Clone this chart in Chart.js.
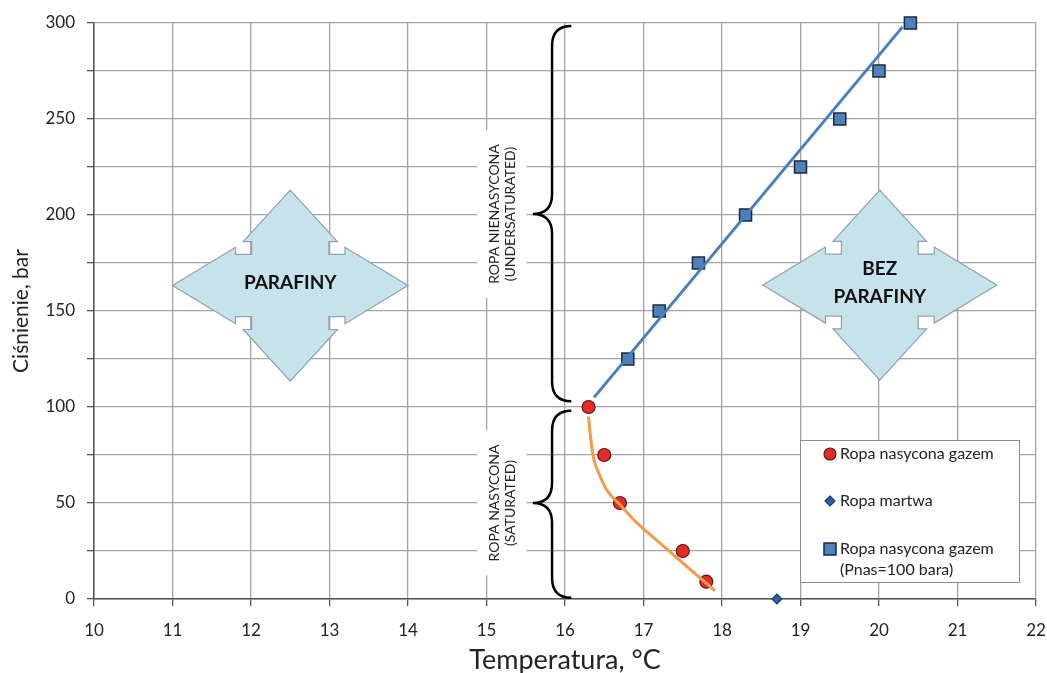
<!DOCTYPE html>
<html><head><meta charset="utf-8">
<script src="https://cdn.jsdelivr.net/npm/chart.js@4/dist/chart.umd.min.js"></script>
<style>html,body{margin:0;padding:0;background:#fff;}</style>
</head><body>
<canvas id="c" width="1047" height="673"></canvas>
<script>
// ---- data ----
const tempSaturated = [16.3, 16.5, 16.7, 17.5, 17.8];
const pressureSaturated = [100, 75, 50, 25, 9];
const tempDead = [18.7];
const pressureDead = [0];
const tempUnder = [16.8, 17.2, 17.7, 18.3, 19.0, 19.5, 20.0, 20.4];
const pressureUnder = [125, 150, 175, 200, 225, 250, 275, 300];
const trendUnderTemp = [16.37, 20.3];
const trendUnderPressure = [105, 298];
const trendSatTemp = [16.30, 16.32, 16.36, 16.43, 16.53, 16.70, 16.92, 17.21, 17.55, 17.91];
const trendSatPressure = [95, 86.4, 74.2, 65.6, 56.9, 49.1, 39.5, 29.1, 17.0, 4.3];
const yTickLabels = [0, 50, 100, 150, 200, 250, 300];
const seriesLabels = ['Ropa nasycona gazem', 'Ropa martwa', 'Ropa nasycona gazem', '(Pnas=100 bara)'];
const xTitle = 'Temperatura, °C';
const yTitle = 'Ciśnienie, bar';
const regionLabels = [['ROPA NIENASYCONA', '(UNDERSATURATED)'], ['ROPA NASYCONA', '(SATURATED)']];
const regionFrom = [103, 0.7];
const regionTo = [298.5, 98];
const regionTip = [200.5, 50];
const arrowTexts = [['PARAFINY'], ['BEZ', 'PARAFINY']];
const arrowXMin = [11.0, 18.52];
const arrowXMax = [14.0, 21.5];
const arrowYMin = [113.5, 114];
const arrowYMax = [213, 213];

const pts = (xs, ys) => xs.map((v, i) => ({x: v, y: ys[i]}));
const FONT = "Lato, 'Open Sans', sans-serif";

const styles = {
  sat: {bg: '#e52b25', border: '#5e1612', r: 6.5},
  dead: {bg: '#2e5ea8', border: '#1b3c70', r: 5},
  under: {bg: '#4f81bd', border: '#1a2a40', r: 8.5}
};

// quad arrow outline (normalised): top apex -> left apex
const Q = [[0,-1],[-0.40,-0.46],[-0.328,-0.46],[-0.328,-0.326],[-0.465,-0.326],[-0.465,-0.40],[-1,0]];
let L = Q.concat(Q.slice(0,-1).reverse().map(([a,b]) => [a,-b]));
const ARROW = L.concat(L.slice(1,-1).reverse().map(([a,b]) => [-a,b]));

const overlay = {
  id: 'overlay',
  beforeDatasetsDraw(chart) {
    const {ctx, scales: {x, y}} = chart;
    ctx.save();
    arrowTexts.forEach((txt, i) => {
      const x0 = x.getPixelForValue(arrowXMin[i]), x1 = x.getPixelForValue(arrowXMax[i]);
      const y0 = y.getPixelForValue(arrowYMax[i]), y1 = y.getPixelForValue(arrowYMin[i]);
      const cx = (x0 + x1) / 2, cy = (y0 + y1) / 2, hw = (x1 - x0) / 2, hh = (y1 - y0) / 2;
      ctx.beginPath();
      ARROW.forEach(([a, b], k) => {
        const px = cx + a * hw, py = cy + b * hh;
        k ? ctx.lineTo(px, py) : ctx.moveTo(px, py);
      });
      ctx.closePath();
      ctx.fillStyle = '#c6e3ec';
      ctx.fill();
      ctx.strokeStyle = '#8fa2a8';
      ctx.lineWidth = 1.2;
      ctx.stroke();
      ctx.fillStyle = '#111';
      ctx.font = 'bold 19px ' + FONT;
      ctx.textAlign = 'center';
      ctx.textBaseline = 'middle';
      const lh = 28;
      txt.forEach((t, j) => {
        ctx.fillText(t, cx, cy - 2.5 + (j - (txt.length - 1) / 2) * lh);
      });
    });
    regionLabels.forEach((lbl, i) => {
      const xe = x.getPixelForValue(16.08), xt = x.getPixelForValue(15.59);
      const xb = (xe + xt) / 2;
      const yTop = y.getPixelForValue(regionTo[i]), yBot = y.getPixelForValue(regionFrom[i]);
      const ym = y.getPixelForValue(regionTip[i]);
      const r = 20;
      ctx.font = '14px ' + FONT;
      const w = Math.max(...lbl.map(t => ctx.measureText(t).width));
      ctx.fillStyle = '#fff';
      ctx.fillRect(xt - 56, ym - w / 2 - 14, 50, w + 28);
      ctx.beginPath();
      ctx.moveTo(xe, yTop);
      ctx.quadraticCurveTo(xb, yTop, xb, yTop + r);
      ctx.lineTo(xb, ym - r);
      ctx.quadraticCurveTo(xb, ym, xt, ym);
      ctx.quadraticCurveTo(xb, ym, xb, ym + r);
      ctx.lineTo(xb, yBot - r);
      ctx.quadraticCurveTo(xb, yBot, xe, yBot);
      ctx.strokeStyle = '#000';
      ctx.lineWidth = 2.5;
      ctx.stroke();
      ctx.save();
      ctx.translate(xt, ym);
      ctx.rotate(-Math.PI / 2);
      ctx.fillStyle = '#222';
      ctx.textAlign = 'center';
      ctx.textBaseline = 'middle';
      ctx.fillText(lbl[0], 0, -38);
      ctx.fillText(lbl[1], 0, -22);
      ctx.restore();
    });
    ctx.restore();
  },
  afterDatasetsDraw(chart) {
    const {ctx} = chart;
    ctx.save();
    const bx = 800.5, by = 440.5, bw = 219, bh = 142;
    ctx.fillStyle = '#fff';
    ctx.fillRect(bx, by, bw, bh);
    ctx.strokeStyle = '#8c8c8c';
    ctx.lineWidth = 1;
    ctx.strokeRect(bx, by, bw, bh);
    const mx = 830, tx = 840;
    const rows = [454, 501, 549, 570];
    ctx.lineWidth = 1.2;
    let s = styles.sat;
    ctx.beginPath(); ctx.arc(mx, rows[0], 6, 0, Math.PI * 2);
    ctx.fillStyle = s.bg; ctx.fill(); ctx.strokeStyle = s.border; ctx.stroke();
    s = styles.dead;
    ctx.beginPath(); ctx.moveTo(mx, rows[1] - 5); ctx.lineTo(mx + 5, rows[1]); ctx.lineTo(mx, rows[1] + 5); ctx.lineTo(mx - 5, rows[1]); ctx.closePath();
    ctx.fillStyle = s.bg; ctx.fill(); ctx.strokeStyle = s.border; ctx.stroke();
    s = styles.under;
    ctx.fillStyle = s.bg; ctx.fillRect(mx - 6, rows[2] - 6, 12, 12);
    ctx.strokeStyle = s.border; ctx.lineWidth = 1.5; ctx.strokeRect(mx - 6, rows[2] - 6, 12, 12);
    ctx.fillStyle = '#222';
    ctx.font = '16px ' + FONT;
    ctx.textAlign = 'left';
    ctx.textBaseline = 'middle';
    seriesLabels.forEach((t, i) => ctx.fillText(t, tx, rows[i]));
    ctx.restore();
  }
};

new Chart(document.getElementById('c'), {
  type: 'scatter',
  data: {
    datasets: [
      {label: 'trend-under', data: pts(trendUnderTemp, trendUnderPressure), showLine: true, borderColor: '#4a7ebb', borderWidth: 3, pointRadius: 0, order: 0},
      {label: 'trend-sat', data: pts(trendSatTemp, trendSatPressure), showLine: true, borderColor: '#f59a4a', borderWidth: 3, pointRadius: 0, cubicInterpolationMode: 'monotone', order: 0},
      {label: seriesLabels[0], data: pts(tempSaturated, pressureSaturated), backgroundColor: styles.sat.bg, borderColor: styles.sat.border, borderWidth: 1.2, pointRadius: styles.sat.r, pointStyle: 'circle', order: 1},
      {label: seriesLabels[1], data: pts(tempDead, pressureDead), backgroundColor: styles.dead.bg, borderColor: styles.dead.border, borderWidth: 1.2, pointRadius: styles.dead.r, pointStyle: 'rectRot', clip: false, order: 1},
      {label: seriesLabels[2], data: pts(tempUnder, pressureUnder), backgroundColor: styles.under.bg, borderColor: styles.under.border, borderWidth: 1.5, pointRadius: styles.under.r, pointStyle: 'rect', clip: false, order: 1}
    ]
  },
  options: {
    responsive: false,
    animation: false,
    devicePixelRatio: 1,
    layout: {padding: {top: 23, right: 11, left: 0, bottom: 0}},
    plugins: {legend: {display: false}, tooltip: {enabled: false}},
    scales: {
      x: {
        type: 'linear', min: 10, max: 22,
        ticks: {stepSize: 1, font: {family: FONT, size: 17}, color: '#222', padding: 14},
        grid: {color: '#a3a3a3', lineWidth: 1.3, tickLength: 7, tickColor: '#555'},
        border: {color: '#555', width: 1.5},
        title: {display: true, text: xTitle, font: {family: FONT, size: 27}, color: '#222', padding: {top: 0, bottom: -3}},
        afterFit: s => { s.height = 74; s.paddingLeft = 0; s.paddingRight = 0; }
      },
      y: {
        type: 'linear', min: 0, max: 300,
        ticks: {stepSize: 25, font: {family: FONT, size: 17}, color: '#222', padding: 12,
          callback: v => yTickLabels.includes(v) ? String(v) : ''},
        grid: {color: '#a3a3a3', lineWidth: 1.3, tickLength: 7, tickColor: '#555'},
        border: {color: '#555', width: 1.5},
        title: {display: true, text: yTitle, font: {family: FONT, size: 21}, color: '#222', padding: {top: 9, bottom: 0}},
        afterFit: s => { s.width = 94; s.paddingTop = 0; s.paddingBottom = 0; }
      }
    }
  },
  plugins: [overlay]
});
</script>
</body></html>
